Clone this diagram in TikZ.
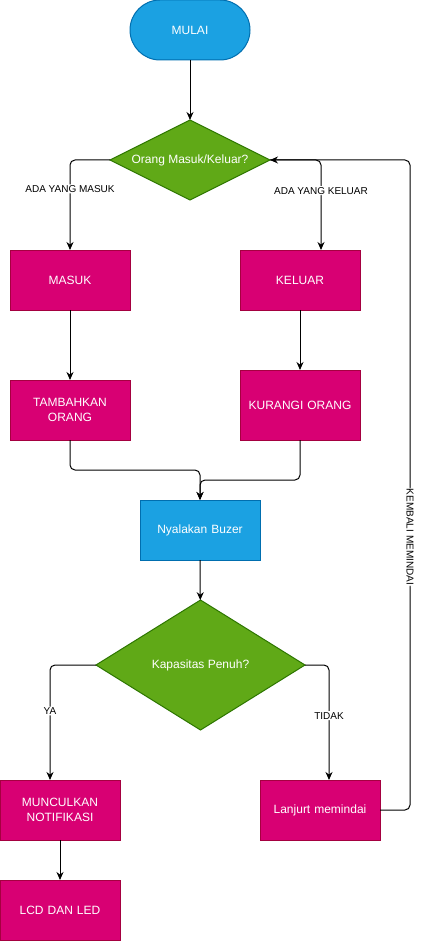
\documentclass[tikz,border=0pt]{standalone}
\usepackage{fontspec}
\setmainfont{Liberation Sans}
\usepackage{xcolor}
\usepackage{tikz}
\usetikzlibrary{arrows.meta, positioning, shapes.geometric}

\definecolor{biruIsi}{HTML}{1BA1E2}
\definecolor{biruTepi}{HTML}{006EAF}
\definecolor{hijauIsi}{HTML}{60A917}
\definecolor{hijauTepi}{HTML}{2D7600}
\definecolor{merahIsi}{HTML}{D80073}
\definecolor{merahTepi}{HTML}{A50040}

\begin{document}
\begin{tikzpicture}[
  x=1pt,
  y=1pt,
  box/.style={
    draw=merahTepi,
    fill=merahIsi,
    text=white,
    line width=1pt,
    minimum width=120pt,
    minimum height=60pt,
    text width=110pt,
    inner sep=0pt,
    outer sep=0pt,
    align=center,
    font=\fontsize{12}{15}\selectfont
  },
  proses/.style={
    box,
    draw=biruTepi,
    fill=biruIsi
  },
  mulai/.style={
    proses,
    rounded corners=30pt
  },
  tanya/.style={
    diamond,
    draw=hijauTepi,
    fill=hijauIsi,
    text=white,
    line width=1pt,
    inner sep=0pt,
    outer sep=0pt,
    font=\fontsize{12}{15}\selectfont
  },
  arr/.style={
    -{Stealth[length=8pt, width=7pt]},
    line width=1pt,
    rounded corners=5pt
  },
  lbl/.style={
    fill=white,
    inner sep=1pt,
    font=\fontsize{10}{12}\selectfont
  }
]

\useasboundingbox (0,0) rectangle (420,-941);

\node [mulai] (mulai) at (190,-30) {MULAI};
\node [tanya, minimum width=160pt, minimum height=80pt, shape aspect=2] (cek) at (190,-160) {Orang Masuk/Keluar?};
\node [box] (masuk) at (70,-280) {MASUK};
\node [box] (keluar) at (300,-280) {KELUAR};
\node [box] (tambah) at (70,-410) {TAMBAHKAN ORANG};
\node [box, minimum height=70pt] (kurang) at (300,-405) {KURANGI ORANG};
\node [proses] (buzer) at (200,-530) {Nyalakan Buzer};
\node [tanya, minimum width=209pt, minimum height=130pt, shape aspect=1.6] (penuh) at (200.5,-665) {Kapasitas Penuh?};
\node [box] (notif) at (60,-810) {MUNCULKAN NOTIFIKASI};
\node [box] (lanjut) at (320,-810) {Lanjurt memindai};
\node [box] (lcd) at (60,-910) {LCD DAN LED};

\coordinate (keluarin) at ([xshift=21pt]keluar.north);
\coordinate (notifin) at ([xshift=-10pt]notif.north);
\coordinate (lanjutin) at ([xshift=9pt]lanjut.north);

\draw [arr] (mulai) -- (cek);

\draw [arr] (cek.west) -| node [lbl, pos=0.66] {ADA YANG MASUK} (masuk);

\draw [arr] (cek.east) -| node [lbl, pos=0.67] {ADA YANG KELUAR} (keluarin);

\draw [arr] (masuk) -- (tambah);
\draw [arr] (keluar) -- (kurang);

\draw [arr] (tambah.south) -- ++(0,-30) -| (buzer);
\draw [arr] (kurang.south) -- ++(0,-40) -| (buzer);

\draw [arr] (buzer) -- (penuh);

\draw [arr] (penuh.west) -| node [lbl, pos=0.7] {YA} (notifin);

\draw [arr] (penuh.east) -| node [lbl, pos=0.72] {TIDAK} (lanjutin);

\draw [arr] (notif) -- (lcd);

\draw [arr] (lanjut.east) -- ++(30,0) |- node [lbl, rotate=-90, pos=0.21] {KEMBALI MEMINDAI} (cek.east);

\end{tikzpicture}
\end{document}
